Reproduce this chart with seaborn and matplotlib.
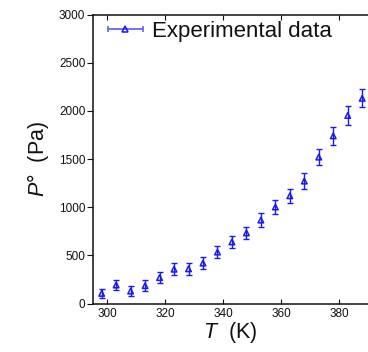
import matplotlib
matplotlib.use("Agg")
import matplotlib.pyplot as plt
import pandas as pd
import seaborn as sns
from matplotlib.lines import Line2D
from matplotlib.legend_handler import HandlerBase

temperature = [298, 303, 308, 313, 318, 323, 328, 333, 338, 343,
               348, 353, 358, 363, 368, 373, 378, 383, 388]
pressure = [105, 192, 129, 185, 269, 356, 360, 420, 534, 639,
            733, 866, 1002, 1118, 1271, 1520, 1740, 1952, 2130]
pressure_err = [50, 55, 50, 55, 55, 60, 60, 60, 65, 65,
                65, 70, 75, 75, 80, 85, 90, 95, 95]

df = pd.DataFrame({"T": temperature, "P": pressure, "err": pressure_err})

sns.set_style("ticks")
plt.rcParams["font.family"] = ["Liberation Sans", "DejaVu Sans"]
plt.rcParams["mathtext.fontset"] = "custom"
plt.rcParams["mathtext.it"] = "Liberation Sans:italic"
plt.rcParams["mathtext.rm"] = "Liberation Sans"

fig = plt.figure(figsize=(3.68, 3.52), dpi=100)
ax = fig.add_axes([93 / 368, 1 - 303.5 / 352, 1 - 93 / 368, (303.5 - 14.5) / 352])

blue = "#1a1aee"
ax.errorbar(df["T"], df["P"], yerr=df["err"], fmt="none", ecolor=blue,
            elinewidth=1.0, capsize=2.2, capthick=1.0, zorder=2)
sns.scatterplot(data=df, x="T", y="P", ax=ax, marker="^", s=16,
                facecolors="none", edgecolors=blue, linewidths=1.1, zorder=3,
                legend=False)

ax.set_xlim(295, 390)
ax.set_ylim(0, 3000)
ax.set_xticks([300, 320, 340, 360, 380])
ax.set_yticks(range(0, 3001, 500))
ax.set_xlabel("$T$  (K)", fontsize=15.5, labelpad=0, color="#111111")
ax.set_ylabel("$P$°  (Pa)", fontsize=15.5, labelpad=6, color="#111111")

ax.tick_params(axis="x", direction="in", length=3.5, width=0.8,
               labelsize=8.5, pad=3, top=True, colors="#111111")
ax.tick_params(axis="y", direction="out", length=4, width=0.8,
               labelsize=8.5, pad=1.5, colors="#111111")
for side in ["left", "bottom", "top"]:
    ax.spines[side].set_linewidth(1.1)
    ax.spines[side].set_color("#111111")
ax.spines["right"].set_visible(False)


class GnuplotKey(HandlerBase):
    # horizontal bar with end caps and a triangle in the middle
    def create_artists(self, legend, orig_handle, xdescent, ydescent,
                       width, height, fontsize, trans):
        y = height / 2 - ydescent
        x0, x1 = -xdescent, -xdescent + width
        bar = Line2D([x0, x1], [y, y], color="#6565ff", lw=1.3)
        caps = Line2D([x0, x1], [y, y], lw=0, marker="|", markersize=4,
                      markeredgewidth=1.2, color="#6565ff")
        tri = Line2D([(x0 + x1) / 2], [y], lw=0, marker="^", markersize=4,
                     markerfacecolor="none", markeredgecolor=blue,
                     markeredgewidth=1.1)
        for a in (bar, caps, tri):
            a.set_transform(trans)
        return [bar, caps, tri]


key = Line2D([], [])
ax.legend([key], ["Experimental data"], handler_map={key: GnuplotKey()},
          loc="upper left", bbox_to_anchor=(0.015, 1.015), frameon=False,
          fontsize=16, handlelength=1.55, handletextpad=0.4,
          borderaxespad=0.0, borderpad=0.5, labelcolor="#111111")

fig.savefig("out.png", dpi=100)
